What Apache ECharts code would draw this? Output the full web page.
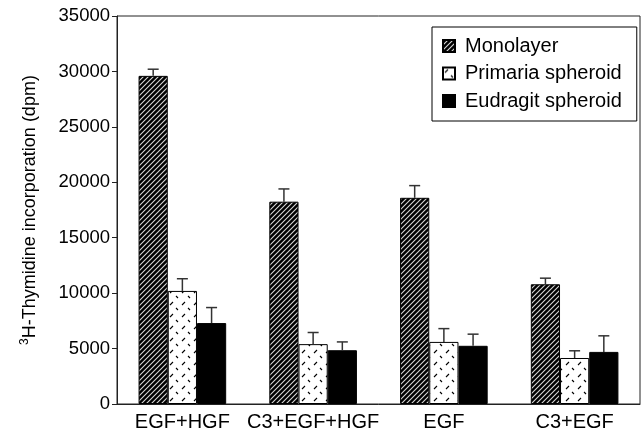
<!DOCTYPE html>
<html><head><meta charset="utf-8">
<script src="https://cdn.jsdelivr.net/npm/echarts@6/dist/echarts.min.js"></script>
<style>html,body{margin:0;padding:0;background:#fff}#c{width:642px;height:437px}</style>
</head><body><div id="c"></div>
<script>
const categories = ['EGF+HGF', 'C3+EGF+HGF', 'EGF', 'C3+EGF'];
const seriesNames = ['Monolayer', 'Primaria spheroid', 'Eudragit spheroid'];
const monolayer = [29600, 18250, 18600, 10800];
const primaria = [10200, 5400, 5600, 4150];
const eudragit = [7300, 4850, 5250, 4700];
const monolayerErr = [600, 1150, 1100, 550];
const primariaErr = [1100, 1050, 1200, 650];
const eudragitErr = [1400, 750, 1050, 1450];
const yTicks = [0, 5000, 10000, 15000, 20000, 25000, 30000, 35000];

function stripePattern() {
  const s = 5, c = document.createElement('canvas');
  c.width = s; c.height = s;
  const g = c.getContext('2d');
  g.fillStyle = '#000'; g.fillRect(0, 0, s, s);
  g.strokeStyle = '#d8d8d8'; g.lineWidth = 1.1;
  g.beginPath();
  g.moveTo(-1, s + 1); g.lineTo(s + 1, -1);
  g.moveTo(-1, 1); g.lineTo(1, -1);
  g.moveTo(s - 1, s + 1); g.lineTo(s + 1, s - 1);
  g.stroke();
  return c;
}
function dashPattern() {
  const w = 12, h = 12, c = document.createElement('canvas');
  c.width = w; c.height = h;
  const g = c.getContext('2d');
  g.fillStyle = '#fff'; g.fillRect(0, 0, w, h);
  g.strokeStyle = '#000'; g.lineWidth = 1.1;
  g.beginPath();
  g.moveTo(2, 5); g.lineTo(5, 2);
  g.moveTo(8, 8); g.lineTo(10, 10);
  g.stroke();
  return c;
}

const colors = [
  { image: stripePattern(), repeat: 'repeat' },
  { image: dashPattern(), repeat: 'repeat' },
  '#000'
];
const values = [monolayer, primaria, eudragit];
const errs = [monolayerErr, primariaErr, eudragitErr];
const GAP = 0.33;

const errData = [];
values.forEach((arr, s) => arr.forEach((v, i) => errData.push([i, v, errs[s][i], s])));

const chart = echarts.init(document.getElementById('c'), null, { renderer: 'canvas' });
const font = 'Liberation Sans, Arial, sans-serif';
chart.setOption({
  animation: false,
  grid: { left: 117, right: 2, top: 16, bottom: 33, show: true, borderColor: '#222', borderWidth: 1 },
  legend: {
    data: seriesNames, orient: 'vertical', left: 432, top: 27,
    borderColor: '#000', borderWidth: 1, padding: [9, 15, 10, 10],
    itemWidth: 12, itemHeight: 12, itemGap: 7.5, icon: 'rect',
    textStyle: { fontFamily: font, fontSize: 20, color: '#000', padding: [0, 0, 0, 5] }
  },
  xAxis: {
    type: 'category', data: categories,
    axisLine: { lineStyle: { color: '#222', width: 1 } },
    axisTick: { inside: true, length: 6, lineStyle: { color: '#222' } },
    axisLabel: { fontFamily: font, fontSize: 20, color: '#000', margin: 8, interval: 0 },
    splitLine: { show: false }
  },
  yAxis: {
    type: 'value', min: yTicks[0], max: yTicks[yTicks.length - 1], interval: 5000,
    axisLine: { show: true, lineStyle: { color: '#222', width: 1 } },
    axisTick: { show: true, length: 5, lineStyle: { color: '#222' } },
    axisLabel: { fontFamily: font, fontSize: 18.5, color: '#000', margin: 7, formatter: v => String(v) },
    splitLine: { show: false },
    name: '{sup|3}H-Thymidine incorporation (dpm)', nameLocation: 'middle', nameGap: 76,
    nameTextStyle: {
      fontFamily: font, fontSize: 18, color: '#000', lineHeight: 22,
      rich: { sup: { fontFamily: font, fontSize: 12, verticalAlign: 'top', lineHeight: 22, color: '#000' } }
    }
  },
  series: seriesNames.map((n, s) => ({
    name: n, type: 'bar', data: values[s],
    barGap: '0%', barCategoryGap: (GAP * 100) + '%',
    itemStyle: { color: colors[s], borderColor: '#000', borderWidth: 1 }
  })).concat([{
    type: 'custom', name: 'err', data: errData, z: 5,
    encode: { x: 0, y: 1 },
    renderItem: function (params, api) {
      const ci = api.value(0), v = api.value(1), e = api.value(2), s = api.value(3);
      const base = api.coord([ci, v]);
      const top = api.coord([ci, v + e]);
      const band = api.size([1, 0])[0];
      const bw = band * (1 - GAP) / 3;
      const x = base[0] + (s - 1) * bw;
      const st = { stroke: '#333', lineWidth: 1.5 };
      return { type: 'group', children: [
        { type: 'line', shape: { x1: x, y1: base[1], x2: x, y2: top[1] }, style: st },
        { type: 'line', shape: { x1: x - 5.5, y1: top[1], x2: x + 5.5, y2: top[1] }, style: st }
      ] };
    }
  }])
});
</script></body></html>
